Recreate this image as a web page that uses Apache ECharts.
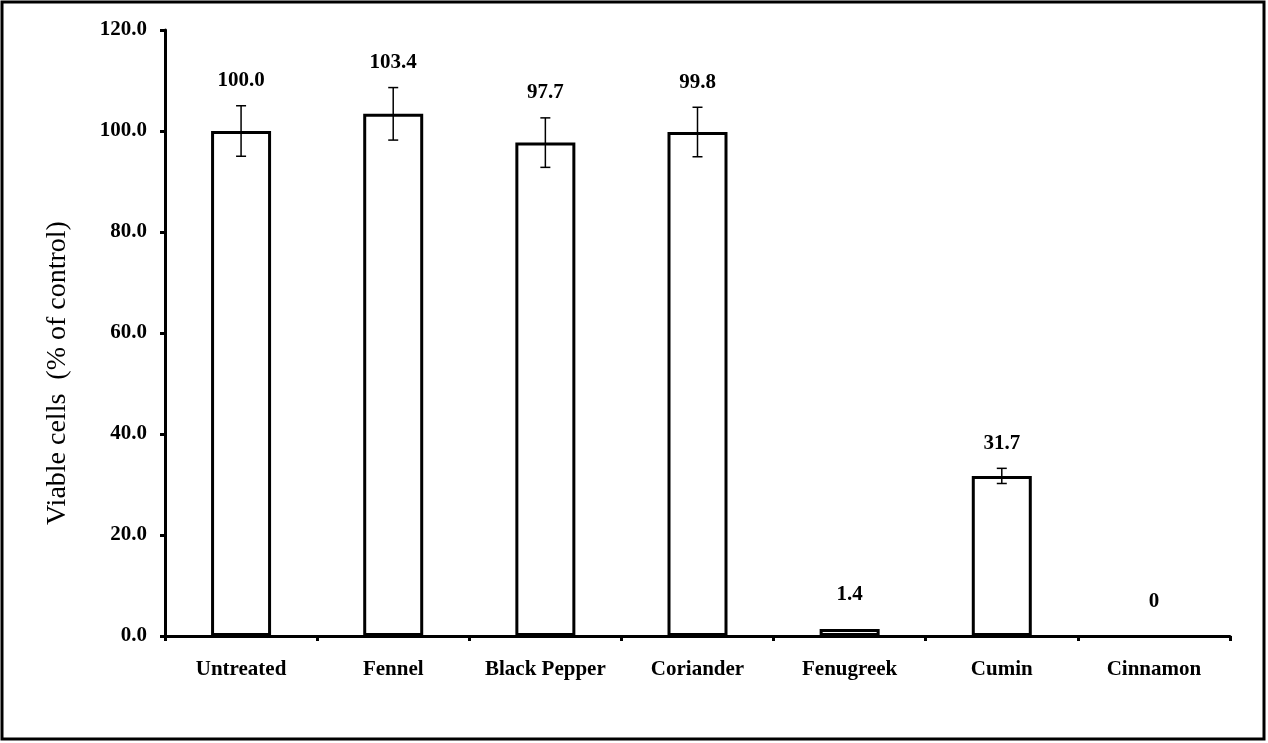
<!DOCTYPE html>
<html>
<head>
<meta charset="utf-8">
<script src="https://cdn.jsdelivr.net/npm/echarts@6/dist/echarts.min.js"></script>
<style>html,body{margin:0;padding:0;background:#fff;}#c{width:1268px;height:743px;}</style>
</head>
<body>
<div id="c"></div>
<script>
var categories = ['Untreated', 'Fennel', 'Black Pepper', 'Coriander', 'Fenugreek', 'Cumin', 'Cinnamon'];
var values = [100.0, 103.4, 97.7, 99.8, 1.4, 31.7, 0];
var errors = [5.0, 5.2, 4.9, 4.9, 0, 1.5, 0];
var valueLabels = ['100.0', '103.4', '97.7', '99.8', '1.4', '31.7', '0'];
var yTicks = { min: 0, max: 120, interval: 20 };

var FONT = "'Liberation Serif', 'Times New Roman', serif";
var chart = echarts.init(document.getElementById('c'));

var errData = categories.map(function (c, i) { return [i, values[i], errors[i]]; });
var barData = values.map(function (v) {
  return v === 0 ? { value: v, itemStyle: { borderWidth: 0 } } : v;
});

chart.setOption({
  animation: false,
  backgroundColor: '#fff',
  grid: { left: 165, right: 38, top: 30, bottom: 107 },
  graphic: [
    { type: 'rect', shape: { x: 2, y: 2, width: 1262, height: 737 }, style: { fill: 'none', stroke: '#000', lineWidth: 3 } },
    { type: 'text', x: 58, y: 373, rotation: Math.PI / 2,
      style: { text: 'Viable cells  (% of control)', font: '28px ' + FONT, fill: '#000', align: 'center', verticalAlign: 'middle' } }
  ],
  xAxis: {
    type: 'category',
    data: categories,
    boundaryGap: true,
    axisLine: { lineStyle: { color: '#000', width: 3 } },
    axisTick: { show: true, alignWithLabel: false, length: 5, lineStyle: { color: '#000', width: 3 } },
    axisLabel: { color: '#000', fontFamily: FONT, fontWeight: 'bold', fontSize: 21, margin: 23, interval: 0 }
  },
  yAxis: {
    type: 'value',
    min: yTicks.min, max: yTicks.max, interval: yTicks.interval,
    splitLine: { show: false },
    axisLine: { show: true, lineStyle: { color: '#000', width: 3 } },
    axisTick: { show: true, length: 5, lineStyle: { color: '#000', width: 3 } },
    axisLabel: { color: '#000', fontFamily: FONT, fontWeight: 'bold', fontSize: 21, margin: 18,
      formatter: function (v) { return v.toFixed(1); } }
  },
  series: [
    {
      type: 'bar',
      data: barData,
      barWidth: 60,
      itemStyle: { color: '#fff', borderColor: '#000', borderWidth: 3 }
    },
    {
      type: 'custom',
      data: errData,
      z: 10,
      renderItem: function (params, api) {
        var i = api.value(0), v = api.value(1), e = api.value(2);
        var lbl = valueLabels[params.dataIndex];
        var children = [];
        var top;
        if (e > 0) {
          var hi = api.coord([i, v + e]);
          var lo = api.coord([i, v - e]);
          var cw = 5;
          children.push({ type: 'line', shape: { x1: hi[0], y1: hi[1], x2: lo[0], y2: lo[1] }, style: { stroke: '#000', lineWidth: 1.5 } });
          children.push({ type: 'line', shape: { x1: hi[0] - cw, y1: hi[1], x2: hi[0] + cw, y2: hi[1] }, style: { stroke: '#000', lineWidth: 1.5 } });
          children.push({ type: 'line', shape: { x1: lo[0] - cw, y1: lo[1], x2: lo[0] + cw, y2: lo[1] }, style: { stroke: '#000', lineWidth: 1.5 } });
          top = hi[1] - 25;
        } else {
          top = api.coord([i, v])[1] - 34;
        }
        var px = api.coord([i, v])[0];
        children.push({ type: 'text', x: px, y: top,
          style: { text: lbl, font: 'bold 21px ' + FONT, fill: '#000', align: 'center', verticalAlign: 'middle' } });
        return { type: 'group', children: children };
      }
    }
  ]
});
</script>
</body>
</html>
